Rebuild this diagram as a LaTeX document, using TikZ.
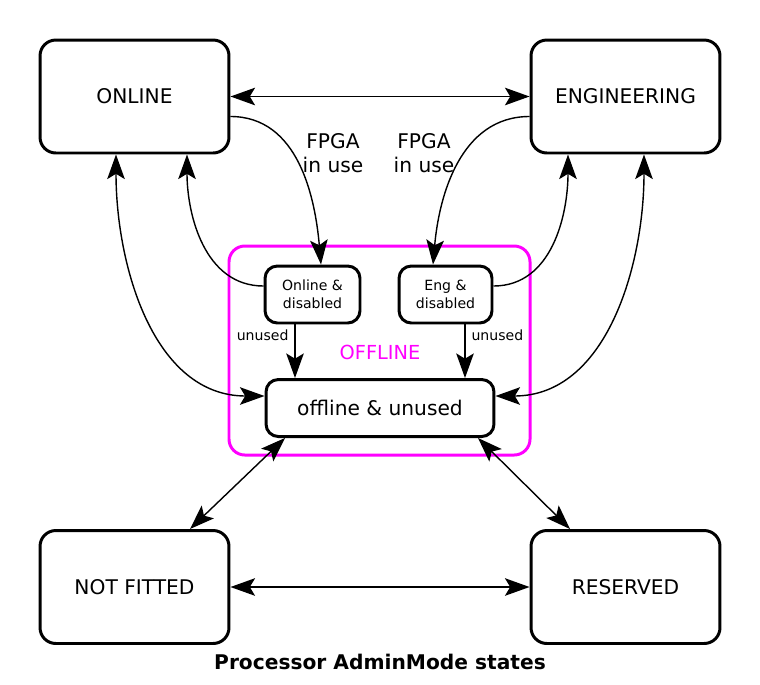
\documentclass[tikz,border=0pt]{standalone}
\usepackage{fontspec}
\setmainfont{DejaVu Sans}
\usetikzlibrary{arrows.meta,calc}
\definecolor{offmag}{rgb}{1,0,1}
\tikzset{
  state/.style={draw, line width=1.7pt, rounded corners=9pt, minimum width=3.78cm, minimum height=2.26cm, font=\fontsize{11.5}{13}\selectfont},
  sub/.style={draw, line width=1.7pt, rounded corners=7pt, minimum height=1.14cm, align=center},
  link/.style={line width=0.8pt, -{Stealth[length=14pt,width=10pt,inset=3pt]}},
  both/.style={link, {Stealth[length=14pt,width=10pt,inset=3pt]}-{Stealth[length=14pt,width=10pt,inset=3pt]}},
  lbl/.style={font=\fontsize{8}{9}\selectfont},
  fpga/.style={align=center, font=\fontsize{11.5}{14}\selectfont}
}
\begin{document}
\begin{tikzpicture}[x=0.02cm,y=-0.02cm]
  \useasboundingbox (0,0) rectangle (760,684);
  % offline group
  \draw[offmag, line width=1.7pt, rounded corners=9pt] (229,246) rectangle (530,455);
  \node[offmag, font=\fontsize{11}{12}\selectfont] (offlbl) at (380,352) {OFFLINE};
  % states
  \node[state] (online) at (134.5,96.5) {ONLINE};
  \node[state] (eng) at (625.5,96.5) {ENGINEERING};
  \node[state] (nf) at (134.5,587) {NOT FITTED};
  \node[state] (res) at (625.5,587) {RESERVED};
  \node[sub, minimum width=4.56cm, font=\fontsize{11.5}{13}\selectfont] (off) at (380,408) {offline \& unused};
  \node[sub, minimum width=1.9cm, font=\fontsize{8}{10}\selectfont] (ond) at (312.5,294.5) {Online \&\\disabled};
  \node[sub, minimum width=1.86cm, font=\fontsize{8}{10}\selectfont] (engd) at (445.5,294.5) {Eng \&\\disabled};
  \node[fpga] (fpgaon) at (333,153) {FPGA\\in use};
  \node[fpga] (fpgaeng) at (424,153) {FPGA\\in use};
  % links
  \draw[both] (online) -- (eng);
  \draw[both] (nf) -- (res);
  \draw[link] ([yshift=-0.4cm]online.east) to[out=0,in=95] (ond.north -| 321,0);
  \draw[link] ([yshift=-0.4cm]eng.west) to[out=180,in=85] (engd.north -| 433,0);
  \draw[link] ([yshift=0.17cm]ond.west) to[out=180,in=-90] (online.south -| 187,0);
  \draw[link] ([yshift=0.17cm]engd.east) to[out=0,in=-90] (eng.south -| 568,0);
  \draw[link] (ond.south -| 295,0) -- node[lbl, left, pos=0.2] {unused} (off.north -| 295,0);
  \draw[link] (engd.south -| 465,0) -- node[lbl, right, pos=0.2] {unused} (off.north -| 465,0);
  \draw[both] (online.south -| 116,0) to[out=-90,in=180] ([yshift=0.24cm]off.west);
  \draw[both] (eng.south -| 644,0) to[out=-90,in=0] ([yshift=0.24cm]off.east);
  \draw[both] (off.south -| 285,0) -- (nf.north -| 190,0);
  \draw[both] (off.south -| 478,0) -- (res.north -| 570,0);
  \node[font=\bfseries\fontsize{11.5}{13}\selectfont] (title) at (380,662) {Processor AdminMode states};
\end{tikzpicture}
\end{document}
